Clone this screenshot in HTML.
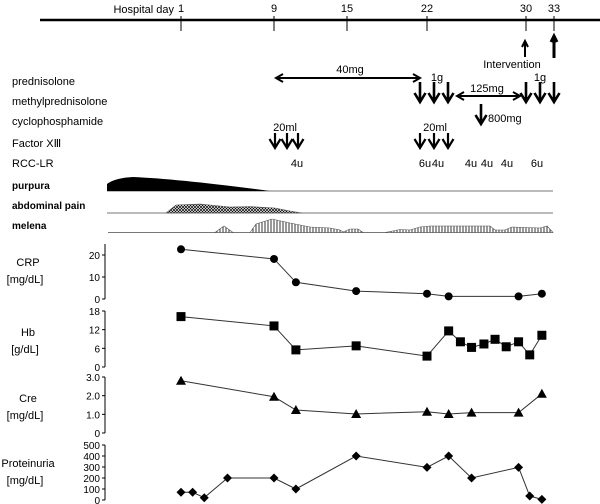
<!DOCTYPE html>
<html><head><meta charset="utf-8"><style>
body{margin:0;background:#fff}
svg{display:block;font-family:"Liberation Sans",sans-serif;font-size:11px}
</style></head><body>
<svg id="c" width="600" height="504" viewBox="0 0 600 504">
<defs>
<pattern id="cross" width="3" height="3" patternUnits="userSpaceOnUse"><rect width="3" height="3" fill="#fff"/><path d="M0,0L3,3M3,0L0,3" stroke="#000" stroke-width="0.7"/></pattern>
<pattern id="vert" width="3" height="3" patternUnits="userSpaceOnUse"><rect width="3" height="3" fill="#fff"/><path d="M1,0V3" stroke="#000" stroke-width="0.8"/></pattern>
</defs>
<g>
<line x1="40" y1="20" x2="600" y2="20" stroke="#000" stroke-width="2.5"/>
<text x="174" y="13" text-anchor="end">Hospital day</text>
</g>
<g fill="#000">
<text x="12" y="85">prednisolone</text>
<text x="12" y="105">methylprednisolone</text>
<text x="12" y="125">cyclophosphamide</text>
<text x="12" y="147">Factor XⅢ</text>
<text x="12" y="167">RCC-LR</text>
<text x="12" y="189" font-weight="bold" font-size="10">purpura</text>
<text x="12" y="209" font-weight="bold" font-size="10">abdominal pain</text>
<text x="12" y="229" font-weight="bold" font-size="10">melena</text>
<text x="512" y="68" text-anchor="middle">Intervention</text>
<text x="350" y="73" text-anchor="middle">40mg</text>
<text x="437" y="81" text-anchor="middle">1g</text>
<text x="540" y="81" text-anchor="middle">1g</text>
<text x="487" y="92" text-anchor="middle">125mg</text>
<text x="488" y="122">800mg</text>
<text x="285" y="131" text-anchor="middle">20ml</text>
<text x="435" y="131" text-anchor="middle">20ml</text>
</g>
<g id="arrows" fill="none" stroke="#000"></g>
<g>
<line x1="107" y1="191" x2="553" y2="191" stroke="#777"/>
<path d="M107,191 L107,184 Q115,178 133,177 Q180,179 270,191 Z" fill="#000"/>
<line x1="107" y1="213" x2="553" y2="213" stroke="#777"/>
<path d="M166,213 L176,205 L200,204 L230,207 L250,206.5 L275,208 L290,211 L302,213 Z" fill="url(#cross)" stroke="#555" stroke-width="0.6"/>
<line x1="108" y1="232.5" x2="553" y2="232.5" stroke="#777"/>
<path d="M215,232.5 L224,226 L233,232.5 Z M250,232.5 L256,224 L272,219 L290,223 L310,227 L330,228 L340,230 L343,232 L350,229 L358,229 L363,232.5 Z M385,232.5 L400,229.5 L410,230 L420,227 L430,226 L470,226 L490,226 L495,230 L505,230 L512,227 L540,228 L547,226 L553,232.5 Z" fill="url(#vert)" stroke="#555" stroke-width="0.6"/>
</g>
<g id="plots"></g>
</svg>
<script>
const tickDays=[1,9,15,22,30,33];
const tickLabels=["1","9","15","22","30","33"];
const crpDays=[1,9,10.8,15.8,22,23.75,29.4,31.7];
const crpValues=[22.6,18.2,7.6,3.6,2.4,1.2,1.2,2.4];
const hbDays=[1,9,10.8,15.8,22,23.75,24.7,25.6,26.6,27.5,28.4,29.4,30.4,31.7];
const hbValues=[16.2,13.2,5.5,6.8,3.5,11.6,8.1,6.3,7.4,8.9,6.5,8.1,3.9,10.2];
const creDays=[1,9,10.8,15.8,22,23.75,25.6,29.4,31.7];
const creValues=[2.8,1.94,1.23,1.02,1.14,1.02,1.09,1.09,2.1];
const protDays=[1,2,3,5,9,10.8,15.8,22,23.75,25.6,29.4,30.4,31.7];
const protValues=[70,70,21,200,200,100,400,297,400,200,297,36,6];
const crpTicks=["0","10","20"],hbTicks=["0","6","12","18"],creTicks=["0","1.0","2.0","3.0"],protTicks=["0","100","200","300","400","500"];
const tickPx=[181,274,347,427,526,554];
function xDay(d){for(let i=0;i<tickDays.length-1;i++){if(d<=tickDays[i+1]||i==tickDays.length-2){const t=(d-tickDays[i])/(tickDays[i+1]-tickDays[i]);return tickPx[i]+t*(tickPx[i+1]-tickPx[i]);}}}
const NS="http://www.w3.org/2000/svg";const svg=document.getElementById('c');
function mk(tag,at,par){const e=document.createElementNS(NS,tag);for(const k in at)e.setAttribute(k,at[k]);(par||svg).appendChild(e);return e;}
tickDays.forEach((d,i)=>{const x=xDay(d);
const l=mk('line',{x1:x,y1:16,x2:x,y2:31,stroke:'#000'});


const t=mk('text',{x:x,y:12,'text-anchor':'middle'});t.textContent=tickLabels[i];

});
const ag=document.getElementById('arrows');
function down(x,y1,y2,w){const p=mk('path',{d:`M${x},${y1}V${y2}M${x-5.5},${y2-9}L${x},${y2}L${x+5.5},${y2-9}`,'stroke-width':w||2.6},ag);

}
function dbl(x1,x2,y){const p=mk('path',{d:`M${x1},${y}H${x2}M${x1+7},${y-4}L${x1},${y}L${x1+7},${y+4}M${x2-7},${y-4}L${x2},${y}L${x2-7},${y+4}`,'stroke-width':2},ag);

}
function up(x,y1,y2,w){const p=mk('path',{d:`M${x},${y2}V${y1}M${x-3},${y1+6}L${x},${y1}L${x+3},${y1+6}`,'stroke-width':w},ag);

}
up(525,41,57,2);up(554,36,58,3);
dbl(276,420,78);dbl(457,520,96);
[420,434,448,526,540,554].forEach(x=>down(x,82,102));
down(481,104,124);
[275,287,298,420,434,448].forEach(x=>down(x,133,148,2.2));
[[297,"4u"],[425,"6u"],[438,"4u"],[471,"4u"],[487,"4u"],[507,"4u"],[537,"6u"]].forEach(([x,s])=>{const t=mk('text',{x:x,y:167,'text-anchor':'middle'});t.textContent=s;

});
const pg=document.getElementById('plots');
function panel(name,label,unit,ly,days,vals,ticks,vmax,yTop,y0,axTop,marker){
const g=mk('g',{},pg);


const yv=v=>y0-(v/vmax)*(y0-yTop);
mk('line',{x1:105,y1:axTop,x2:105,y2:y0,stroke:'#000'},g);
ticks.forEach(t=>{const v=parseFloat(t),y=yv(v);mk('line',{x1:102,y1:y,x2:105,y2:y,stroke:'#000'},g);
const tx=mk('text',{x:100,y:y+4,'text-anchor':'end','font-size':'10'},g);tx.textContent=t;

});
const a=mk('text',{x:28,y:ly,'text-anchor':'middle'},g);a.textContent=label;


const b=mk('text',{x:25,y:ly+17,'text-anchor':'middle'},g);b.textContent=unit;


const pts=days.map((d,i)=>[xDay(d),yv(vals[i])]);
const pl=mk('polyline',{points:pts.map(p=>p.join(',')).join(' '),fill:'none',stroke:'#333','stroke-width':1},g);


pts.forEach(([x,y])=>{let m;
if(marker=='c')m=mk('circle',{cx:x,cy:y,r:4},g);
else if(marker=='s')m=mk('rect',{x:x-4.5,y:y-4.5,width:9,height:9},g);
else if(marker=='t')m=mk('path',{d:`M${x},${y-5}L${x+5},${y+4}L${x-5},${y+4}Z`},g);
else m=mk('path',{d:`M${x},${y-4.5}L${x+4.5},${y}L${x},${y+4.5}L${x-4.5},${y}Z`},g);

});}
panel('crp','CRP','[mg/dL]',266,crpDays,crpValues,crpTicks,20,255,299,244,'c');
panel('hb','Hb','[g/dL]',336,hbDays,hbValues,hbTicks,18,311,367,311,'s');
panel('cre','Cre','[mg/dL]',402,creDays,creValues,creTicks,3,377,433,377,'t');
panel('proteinuria','Proteinuria','[mg/dL]',467,protDays,protValues,protTicks,500,445,500,445,'d');
</script>
</body></html>
